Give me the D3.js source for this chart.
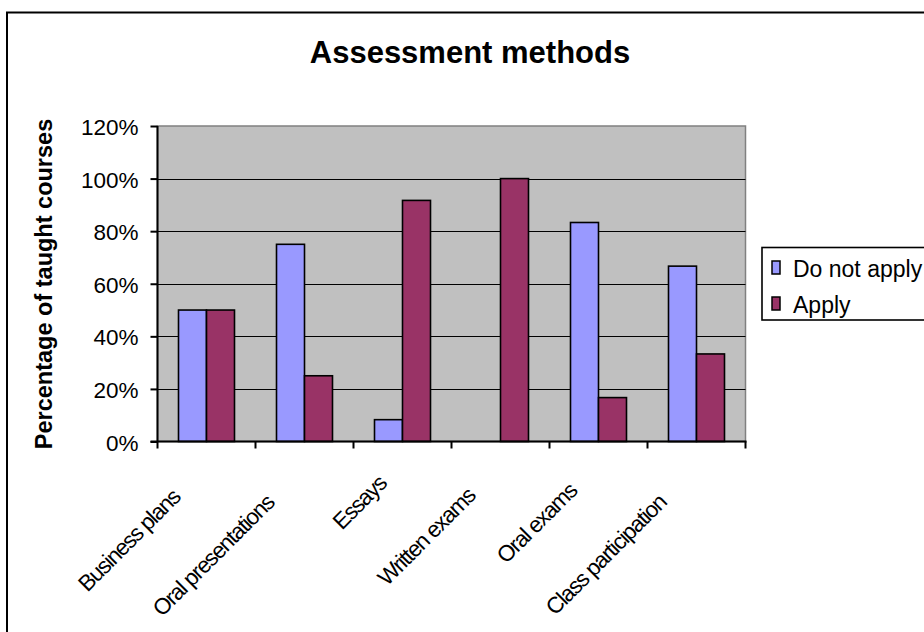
<!DOCTYPE html>
<html>
<head>
<meta charset="utf-8">
<script src="https://cdn.jsdelivr.net/npm/d3@7"></script>
<style>
  html, body { margin: 0; padding: 0; background: #fff; }
  svg { display: block; font-family: Arial, "Liberation Sans", sans-serif; }
</style>
</head>
<body>
<svg id="chart" width="924" height="632"></svg>
<script>
// Share of taught courses per assessment method
const categories = ["Business plans", "Oral presentations", "Essays", "Written exams", "Oral exams", "Class participation"];
const doNotApply = [0.50, 0.75, 0.083, 0.0, 0.833, 0.667];
const apply = [0.50, 0.25, 0.917, 1.0, 0.167, 0.333];
const seriesNames = ["Do not apply", "Apply"];
const seriesColors = ["#9999FF", "#993366"];
const yTicks = [0, 0.2, 0.4, 0.6, 0.8, 1.0, 1.2];

const svg = d3.select("#chart");
const W = 924, H = 632;

// Outer chart frame (runs off the right and bottom edges)
svg.append("rect")
  .attr("x", 7).attr("y", 12.5)
  .attr("width", W + 10).attr("height", H + 10)
  .attr("fill", "#fff").attr("stroke", "#000").attr("stroke-width", 2);

const plot = { left: 157.5, right: 745.5, top: 126, bottom: 441.5 };

const x = d3.scaleBand().domain(categories).range([plot.left, plot.right]).paddingInner(0).paddingOuter(0);
const y = d3.scaleLinear().domain([0, 1.2]).range([plot.bottom, plot.top]);

// Two bars per group, gap width 150%
const barW = x.bandwidth() / 3.5;
const xs = d3.scaleBand().domain(seriesNames).range([0.75 * barW, 2.75 * barW]);

// Plot area background
svg.append("rect")
  .attr("x", plot.left).attr("y", plot.top)
  .attr("width", plot.right - plot.left).attr("height", plot.bottom - plot.top)
  .attr("fill", "#C0C0C0").attr("stroke", "#808080").attr("stroke-width", 1.5);

// Horizontal gridlines
svg.append("g").selectAll("line")
  .data(yTicks.filter(t => t > 0 && t < 1.2))
  .join("line")
  .attr("x1", plot.left).attr("x2", plot.right)
  .attr("y1", d => Math.round(y(d)) + 0.5).attr("y2", d => Math.round(y(d)) + 0.5)
  .attr("stroke", "#000").attr("stroke-width", 1.2);

// Bars
const rows = categories.map((c, i) => ({ c, vals: [doNotApply[i], apply[i]] }));
const groups = svg.append("g").selectAll("g")
  .data(rows).join("g")
  .attr("transform", d => `translate(${x(d.c)},0)`);
groups.selectAll("rect")
  .data(d => d.vals.map((v, j) => ({ v, s: seriesNames[j], j })))
  .join("rect")
  .filter(d => d.v > 0)
  .attr("x", d => xs(d.s))
  .attr("width", xs.bandwidth())
  .attr("y", d => y(d.v))
  .attr("height", d => y(0) - y(d.v))
  .attr("fill", d => seriesColors[d.j])
  .attr("stroke", "#000").attr("stroke-width", 1.6);

// Y axis
const yAxis = d3.axisLeft(y).tickValues(yTicks).tickFormat(d3.format(".0%")).tickSize(7).tickPadding(12);
const yg = svg.append("g").attr("transform", `translate(${plot.left},0)`).call(yAxis);
yg.select(".domain").attr("stroke", "#000").attr("stroke-width", 2).attr("d", `M0,${plot.top}V${plot.bottom}`);
yg.selectAll(".tick line").attr("stroke", "#000").attr("stroke-width", 2);
yg.selectAll(".tick text")
  .attr("font-size", 22.5).attr("fill", "#000")
  .attr("font-family", "Arial, 'Liberation Sans', sans-serif")
  .attr("dy", "0.38em");

// X axis: ticks at group boundaries
const bounds = categories.map(c => x(c)).concat([plot.right]);
const xg = svg.append("g");
xg.append("line")
  .attr("x1", plot.left - 7).attr("x2", plot.right + 1)
  .attr("y1", plot.bottom).attr("y2", plot.bottom)
  .attr("stroke", "#000").attr("stroke-width", 2);
xg.selectAll("line.tk").data(bounds).join("line").attr("class", "tk")
  .attr("x1", d => d).attr("x2", d => d)
  .attr("y1", plot.bottom).attr("y2", plot.bottom + 7)
  .attr("stroke", "#000").attr("stroke-width", 2);

// Rotated category labels, slid down-left along the diagonal in proportion to their length
const lbl = xg.selectAll("text.cat").data(categories).join("text").attr("class", "cat")
  .attr("font-size", 22.5).attr("letter-spacing", -1.3).attr("fill", "#000")
  .attr("text-anchor", "end")
  .text(d => d);
lbl.attr("transform", function (d) {
  const L = this.getComputedTextLength();
  const cx = x(d) + x.bandwidth() / 2;
  const ex = cx - 5 - 0.15 * L;
  const ey = 472 + 0.2 * L;
  return `translate(${ex},${ey}) rotate(-45)`;
});

// Title
svg.append("text")
  .attr("x", 470).attr("y", 63)
  .attr("text-anchor", "middle")
  .attr("font-size", 31).attr("font-weight", "bold")
  .text("Assessment methods");

// Y axis title
svg.append("text")
  .attr("transform", `translate(52,284) rotate(-90)`)
  .attr("text-anchor", "middle")
  .attr("font-size", 23.5).attr("font-weight", "bold")
  .text("Percentage of taught courses");

// Legend
const lg = svg.append("g");
lg.append("rect")
  .attr("x", 762).attr("y", 247.5).attr("width", 200).attr("height", 72.5)
  .attr("fill", "#fff").attr("stroke", "#000").attr("stroke-width", 1.6);
const items = lg.selectAll("g.item").data(seriesNames).join("g").attr("class", "item")
  .attr("transform", (d, i) => `translate(772,${261 + i * 36})`);
items.append("rect")
  .attr("width", 8).attr("height", 13)
  .attr("fill", (d, i) => seriesColors[i])
  .attr("stroke", "#000").attr("stroke-width", 1.5);
items.append("text")
  .attr("x", 21).attr("y", 16)
  .attr("font-size", 23)
  .text(d => d);
</script>
</body>
</html>
